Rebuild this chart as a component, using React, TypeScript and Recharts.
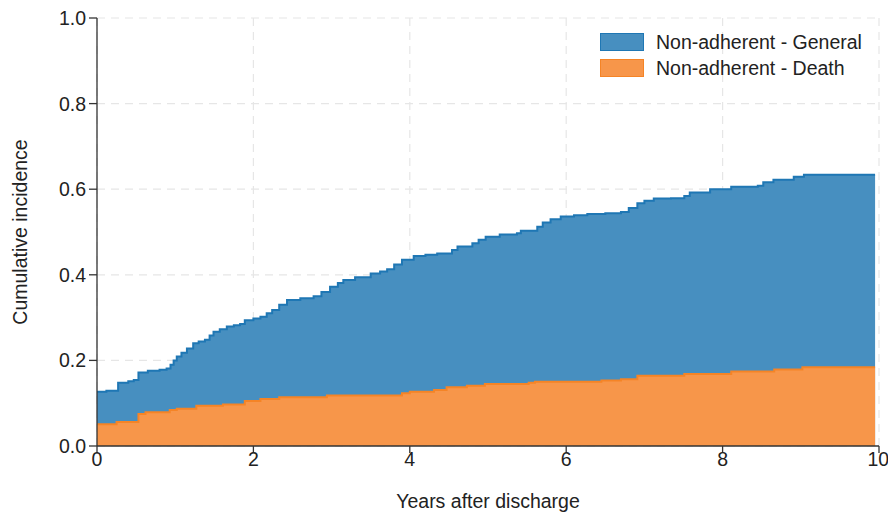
import { ComposedChart, Area, XAxis, YAxis, CartesianGrid } from "recharts";

// cumulative incidence, non-adherent group
const generalYears = [
  0, 0.12, 0.27, 0.4, 0.47, 0.53, 0.65, 0.8, 0.89, 0.94, 0.98, 1.02, 1.08, 1.15, 1.23, 1.3,
  1.38, 1.44, 1.49, 1.57, 1.66, 1.75, 1.83, 1.89, 2.0, 2.09, 2.17, 2.24, 2.33, 2.43, 2.6,
  2.77, 2.87, 2.98, 3.08, 3.15, 3.3, 3.5, 3.62, 3.71, 3.8, 3.9, 4.05, 4.2, 4.35, 4.54, 4.61,
  4.8, 4.88, 4.97, 5.15, 5.37, 5.42, 5.63, 5.7, 5.8, 5.93, 6.1, 6.27, 6.5, 6.7, 6.8, 6.91,
  7.0, 7.12, 7.34, 7.51, 7.58, 7.84, 8.11, 8.45, 8.52, 8.65, 8.91, 9.04, 9.95,
];
const generalValues = [
  0.127, 0.129, 0.148, 0.151, 0.154, 0.172, 0.176, 0.178, 0.181, 0.19, 0.2, 0.209, 0.218,
  0.228, 0.24, 0.244, 0.248, 0.258, 0.267, 0.273, 0.279, 0.282, 0.285, 0.294, 0.298, 0.302,
  0.31, 0.318, 0.33, 0.341, 0.345, 0.35, 0.36, 0.372, 0.381, 0.388, 0.394, 0.403, 0.408,
  0.413, 0.424, 0.435, 0.444, 0.447, 0.45, 0.458, 0.466, 0.474, 0.482, 0.489, 0.494, 0.497,
  0.503, 0.512, 0.522, 0.53, 0.536, 0.539, 0.542, 0.544, 0.547, 0.556, 0.567, 0.573, 0.578,
  0.579, 0.584, 0.592, 0.6, 0.606, 0.608, 0.616, 0.622, 0.629, 0.634, 0.634,
];

const deathYears = [
  0, 0.25, 0.53, 0.62, 0.93, 1.02, 1.27, 1.61, 1.89, 2.09, 2.33, 2.94, 3.9, 4.0, 4.31, 4.47,
  4.73, 4.96, 5.52, 5.6, 6.45, 6.7, 6.91, 7.51, 8.11, 8.66, 9.02, 9.95,
];
const deathValues = [
  0.051, 0.056, 0.075, 0.079, 0.084, 0.087, 0.094, 0.097, 0.105, 0.11, 0.114, 0.118, 0.123,
  0.127, 0.131, 0.137, 0.141, 0.145, 0.148, 0.15, 0.153, 0.156, 0.164, 0.168, 0.174, 0.179,
  0.184, 0.184,
];

const xTicks = [0, 2, 4, 6, 8, 10];
const yTicks = [0, 0.2, 0.4, 0.6, 0.8, 1.0];

const seriesNames = ["Non-adherent - General", "Non-adherent - Death"];
const fills = ["#478fc0", "#f7964a"];
const strokes = ["#1f77b4", "#f58426"];

const generalData = generalYears.map((t, i) => ({ t, v: generalValues[i] }));
const deathData = deathYears.map((t, i) => ({ t, v: deathValues[i] }));

const font = "Arial, 'Liberation Sans', sans-serif";
const axisColor = "#333";
const fs = 19.5;

export default function App() {
  return (
    <div style={{ position: "absolute", left: 0, top: 0, width: 888, height: 513, fontFamily: font }}>
      <ComposedChart
        width={888}
        height={513}
        margin={{ top: 18, right: 9, bottom: 0, left: 0 }}
      >
        <CartesianGrid stroke="#e6e6e6" strokeDasharray="8 6" strokeWidth={1.2} />
        <XAxis
          type="number"
          dataKey="t"
          domain={[0, 10]}
          ticks={xTicks}
          height={67}
          tickSize={7}
          tickMargin={-1}
          stroke={axisColor}
          strokeWidth={1.3}
          tick={{ fill: "#222", fontSize: fs, fontFamily: font }}
          tickFormatter={(v: number) => String(v)}
          label={{
            value: "Years after discharge",
            position: "insideBottom",
            offset: 5,
            fill: "#222",
            fontSize: fs,
            fontFamily: font,
          }}
        />
        <YAxis
          type="number"
          domain={[0, 1]}
          ticks={yTicks}
          width={97}
          tickSize={8}
          tickMargin={3}
          stroke={axisColor}
          strokeWidth={1.3}
          tick={{ fill: "#222", fontSize: fs, fontFamily: font }}
          tickFormatter={(v: number) => v.toFixed(1)}
          label={{
            value: "Cumulative incidence",
            angle: -90,
            position: "insideLeft",
            offset: 20,
            fill: "#222",
            fontSize: fs,
            fontFamily: font,
            style: { textAnchor: "middle" },
          }}
        />
        <Area
          data={generalData}
          dataKey="v"
          name={seriesNames[0]}
          type="stepAfter"
          fill={fills[0]}
          fillOpacity={1}
          stroke={strokes[0]}
          strokeWidth={2}
          isAnimationActive={false}
        />
        <Area
          data={deathData}
          dataKey="v"
          name={seriesNames[1]}
          type="stepAfter"
          fill={fills[1]}
          fillOpacity={1}
          stroke={strokes[1]}
          strokeWidth={2}
          isAnimationActive={false}
        />
      </ComposedChart>
      <div style={{ position: "absolute", left: 600, top: 29, fontSize: fs, color: "#222" }}>
        {seriesNames.map((name, i) => (
          <div key={name} style={{ display: "flex", alignItems: "center", height: 26 }}>
            <span
              style={{
                display: "inline-block",
                width: 42,
                height: 16,
                background: fills[i],
                border: `1.5px solid ${strokes[i]}`,
                marginRight: 12,
              }}
            />
            <span>{name}</span>
          </div>
        ))}
      </div>
    </div>
  );
}
